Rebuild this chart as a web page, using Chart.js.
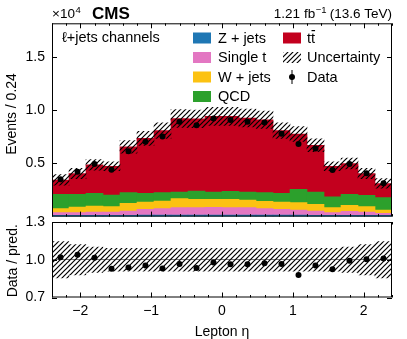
<!DOCTYPE html>
<html>
<head>
<meta charset="utf-8">
<script src="https://cdn.jsdelivr.net/npm/chart.js@4.4.0/dist/chart.umd.min.js"></script>
<style>
  html, body { margin: 0; padding: 0; background: #fff; }
  #wrap { position: relative; width: 407px; height: 339px; }
  #topChart { position: absolute; left: 0; top: 0; }
  #ratioChart { position: absolute; left: 0; top: 205px; }
</style>
</head>
<body>
<div id="wrap">
  <canvas id="topChart" width="407" height="232"></canvas>
  <canvas id="ratioChart" width="407" height="134"></canvas>
</div>
<script>
const BIN_EDGES = [-2.4, -2.16, -1.92, -1.68, -1.44, -1.2, -0.96, -0.72, -0.48, -0.24, 0,
  0.24, 0.48, 0.72, 0.96, 1.2, 1.44, 1.68, 1.92, 2.16, 2.4];

const ZJETS = [120, 120, 120, 120, 130, 140, 140, 150, 150, 150, 150, 150, 150, 140, 140, 130, 120, 120, 120, 120];
const SINGLE_T = [255, 255, 310, 310, 400, 540, 610, 690, 690, 730, 690, 690, 600, 540, 480, 400, 255, 380, 310, 190];
const WJETS = [375, 525, 570, 510, 720, 690, 710, 850, 780, 740, 780, 720, 680, 690, 690, 620, 465, 560, 510, 310];
const QCD = [1340, 1190, 1180, 1090, 1000, 810, 790, 620, 780, 690, 750, 750, 820, 810, 1250, 1160, 1030, 1030, 1060, 1160];
const TTBAR = [1360, 1970, 2690, 2710, 4310, 5190, 5840, 6930, 6800, 7120, 7060, 6970, 6870, 5910, 5220, 4400, 2870, 2910, 2060, 1340];
const DATA = [3520, 4220, 4950, 4400, 6150, 7040, 7530, 8920, 8590, 9230, 9100, 8940, 8870, 7810, 6840, 6410, 4380, 4960, 4080, 3150];
// relative uncertainty of the prediction per bin
const UNC = [0.145, 0.12, 0.1, 0.09, 0.09, 0.09, 0.09, 0.09, 0.09, 0.09, 0.09, 0.09, 0.09, 0.09, 0.09, 0.09, 0.09, 0.1, 0.12, 0.145];

const Y_TICKS = [5000, 10000, 15000];
const RATIO_TICKS = [0.7, 1.0, 1.3];
const X_TICKS = [-2, -1, 0, 1, 2];

const COLORS = {
  zjets: '#1f77b4',
  singleT: '#e377c2',
  wjets: '#fcc212',
  qcd: '#2ca02c',
  ttbar: '#c3001e',
};

const FONT = '"Liberation Sans", Arial, Helvetica, sans-serif';

const labels = BIN_EDGES.slice(0, -1).map((e) => e.toFixed(2));
const pred = TTBAR.map((v, i) => v + ZJETS[i] + SINGLE_T[i] + WJETS[i] + QCD[i]);
const ratio = DATA.map((v, i) => v / pred[i]);

function hatchPattern() {
  const c = document.createElement('canvas');
  c.width = 5;
  c.height = 5;
  const g = c.getContext('2d');
  g.strokeStyle = '#000';
  g.lineWidth = 1.2;
  g.beginPath();
  g.moveTo(0, 5); g.lineTo(5, 0);
  g.moveTo(-1, 1); g.lineTo(1, -1);
  g.moveTo(4, 6); g.lineTo(6, 4);
  g.stroke();
  return g.createPattern(c, 'repeat');
}
const HATCH = hatchPattern();

// frame and inward ticks, matplotlib style
function drawFrame(chart, yTicks) {
  const { ctx, chartArea: a, scales } = chart;
  const xs = scales.x2;
  const ys = scales.y;
  ctx.save();
  ctx.strokeStyle = '#000';
  ctx.lineWidth = 1;
  ctx.beginPath();
  for (let k = -12; k <= 12; k++) {
    const v = k / 5;
    const px = Math.round(xs.getPixelForValue(v)) + 0.5;
    const len = X_TICKS.includes(v) ? 5 : 2.5;
    ctx.moveTo(px, a.bottom); ctx.lineTo(px, a.bottom - len);
    ctx.moveTo(px, a.top); ctx.lineTo(px, a.top + len);
  }
  yTicks.forEach((v) => {
    const py = Math.round(ys.getPixelForValue(v)) + 0.5;
    ctx.moveTo(a.left, py); ctx.lineTo(a.left + 5, py);
    ctx.moveTo(a.right, py); ctx.lineTo(a.right - 5, py);
  });
  ctx.stroke();
  ctx.strokeRect(a.left + 0.5, a.top + 0.5, a.right - a.left - 1, a.bottom - a.top - 1);
  ctx.restore();
}

function vText(ctx, text, x, y, size) {
  ctx.save();
  ctx.translate(x, y);
  ctx.rotate(-Math.PI / 2);
  ctx.font = `${size}px ${FONT}`;
  ctx.textAlign = 'center';
  ctx.textBaseline = 'middle';
  ctx.fillText(text, 0, 0);
  ctx.restore();
}

const topDecor = {
  id: 'topDecor',
  afterDatasetsDraw(chart) {
    drawFrame(chart, Y_TICKS);
  },
  afterDraw(chart) {
    const { ctx } = chart;
    ctx.save();
    ctx.fillStyle = '#000';
    ctx.textBaseline = 'alphabetic';
    ctx.textAlign = 'left';

    ctx.font = `13.5px ${FONT}`;
    ctx.fillText('\u00d710', 52, 18);
    const w10 = ctx.measureText('\u00d710').width;
    ctx.font = `9.5px ${FONT}`;
    ctx.fillText('4', 52 + w10 + 0.5, 12.5);

    ctx.font = `bold 17px ${FONT}`;
    ctx.fillText('CMS', 92, 18.5);

    // luminosity label, right aligned
    ctx.font = `13.5px ${FONT}`;
    const p1 = '1.21 fb';
    const p3 = ' (13.6 TeV)';
    const w1 = ctx.measureText(p1).width;
    const w3 = ctx.measureText(p3).width;
    ctx.font = `9.5px ${FONT}`;
    const sup = '\u22121';
    const w2 = ctx.measureText(sup).width;
    const x = 392 - w1 - w2 - w3;
    ctx.font = `13.5px ${FONT}`;
    ctx.fillText(p1, x, 18);
    ctx.font = `9.5px ${FONT}`;
    ctx.fillText(sup, x + w1 + 0.5, 12.5);
    ctx.font = `13.5px ${FONT}`;
    ctx.fillText(p3, x + w1 + w2, 18);

    ctx.font = `14.5px ${FONT}`;
    ctx.fillText('\u2113+jets channels', 62, 42);

    // legend
    const rows = [38, 57.5, 77, 96.5];
    const sw = 18, sh = 11;
    const col1 = [
      ['Z + jets', COLORS.zjets],
      ['Single t', COLORS.singleT],
      ['W + jets', COLORS.wjets],
      ['QCD', COLORS.qcd],
    ];
    ctx.textBaseline = 'middle';
    col1.forEach(([name, color], i) => {
      ctx.fillStyle = color;
      ctx.fillRect(193, rows[i] - sh / 2, sw, sh);
      ctx.fillStyle = '#000';
      ctx.fillText(name, 218, rows[i] + 0.5);
    });
    ctx.fillStyle = COLORS.ttbar;
    ctx.fillRect(283, rows[0] - sh / 2, sw, sh);
    ctx.fillStyle = '#000';
    ctx.fillText('tt', 307, rows[0] + 0.5);
    const wt = ctx.measureText('t').width;
    ctx.fillRect(307 + wt + 0.5, rows[0] - 8, wt - 0.5, 1.2);

    ctx.fillStyle = HATCH;
    ctx.fillRect(283, rows[1] - sh / 2, sw, sh);
    ctx.fillStyle = '#000';
    ctx.fillText('Uncertainty', 307, rows[1] + 0.5);

    ctx.beginPath();
    ctx.arc(292, rows[2], 3, 0, Math.PI * 2);
    ctx.fill();
    ctx.fillRect(291.5, rows[2] - 7, 1, 14);
    ctx.fillText('Data', 307, rows[2] + 0.5);

    vText(ctx, 'Events / 0.24', 12.5, 114, 14);
    ctx.restore();
  },
};

const ratioDecor = {
  id: 'ratioDecor',
  afterDatasetsDraw(chart) {
    drawFrame(chart, RATIO_TICKS);
  },
  afterDraw(chart) {
    const { ctx, chartArea: a } = chart;
    ctx.save();
    ctx.fillStyle = '#000';
    vText(ctx, 'Data / pred.', 13, (a.top + a.bottom) / 2 + 1, 14);
    ctx.font = `14px ${FONT}`;
    ctx.textAlign = 'center';
    ctx.textBaseline = 'alphabetic';
    ctx.fillText('Lepton \u03b7', (a.left + a.right) / 2, chart.height - 3);
    ctx.restore();
  },
};

const tickFont = { family: FONT, size: 14 };

function barSet(label, data, color) {
  return {
    type: 'bar',
    label,
    data,
    backgroundColor: color,
    borderWidth: 0,
    barPercentage: 1,
    categoryPercentage: 1,
    xAxisID: 'x',
    yAxisID: 'y',
  };
}

new Chart(document.getElementById('topChart'), {
  type: 'bar',
  data: {
    labels,
    datasets: [
      {
        type: 'line',
        label: 'Data',
        data: DATA,
        showLine: false,
        pointRadius: 3,
        pointBackgroundColor: '#000',
        pointBorderWidth: 0,
        xAxisID: 'x',
        yAxisID: 'y',
      },
      {
        type: 'bar',
        label: 'Uncertainty',
        data: pred.map((p, i) => [p * (1 - UNC[i]), p * (1 + UNC[i])]),
        backgroundColor: HATCH,
        borderWidth: 0,
        grouped: false,
        barPercentage: 1,
        categoryPercentage: 1,
        xAxisID: 'x',
        yAxisID: 'yu',
      },
      barSet('Z + jets', ZJETS, COLORS.zjets),
      barSet('Single t', SINGLE_T, COLORS.singleT),
      barSet('W + jets', WJETS, COLORS.wjets),
      barSet('QCD', QCD, COLORS.qcd),
      barSet('tt', TTBAR, COLORS.ttbar),
    ],
  },
  options: {
    responsive: false,
    animation: false,
    layout: { padding: { top: 23.3, right: 15, bottom: 14.7, left: 0 } },
    plugins: { legend: { display: false }, tooltip: { enabled: false } },
    scales: {
      x: { type: 'category', display: false, stacked: true, offset: true },
      x2: { type: 'linear', display: false, offset: false, min: -2.4, max: 2.4 },
      y: {
        stacked: true,
        min: 0,
        max: 18200,
        afterFit(s) { s.width = 52; },
        afterBuildTicks(s) { s.ticks = Y_TICKS.map((v) => ({ value: v })); },
        ticks: {
          font: tickFont,
          color: '#000',
          padding: 7,
          autoSkip: false,
          callback: (v) => (v / 10000).toFixed(1),
        },
        grid: { display: false, drawTicks: false },
        border: { display: false },
      },
      yu: { display: false, min: 0, max: 18200 },
    },
  },
  plugins: [topDecor],
});

new Chart(document.getElementById('ratioChart'), {
  type: 'bar',
  data: {
    labels,
    datasets: [
      {
        type: 'line',
        label: 'Data / pred.',
        data: ratio,
        showLine: false,
        pointRadius: 3,
        pointBackgroundColor: '#000',
        pointBorderWidth: 0,
        xAxisID: 'x',
        yAxisID: 'y',
      },
      {
        type: 'bar',
        label: 'Uncertainty',
        data: UNC.map((u) => [1 - u, 1 + u]),
        backgroundColor: HATCH,
        borderWidth: 0,
        barPercentage: 1,
        categoryPercentage: 1,
        xAxisID: 'x',
        yAxisID: 'y',
      },
    ],
  },
  options: {
    responsive: false,
    animation: false,
    layout: { padding: { top: 17, right: 15, bottom: 0, left: 0 } },
    plugins: { legend: { display: false }, tooltip: { enabled: false } },
    scales: {
      x: { type: 'category', display: false, offset: true },
      x2: {
        type: 'linear',
        position: 'bottom',
        offset: false,
        min: -2.4,
        max: 2.4,
        afterFit(s) { s.height = 41.5; },
        afterBuildTicks(s) { s.ticks = X_TICKS.map((v) => ({ value: v })); },
        ticks: {
          font: tickFont,
          color: '#000',
          padding: 5,
          maxRotation: 0,
          autoSkip: false,
          callback: (v) => (v < 0 ? '\u2212' + Math.abs(v) : String(v)),
        },
        grid: { display: false, drawTicks: false, offset: false },
        border: { display: false },
      },
      y: {
        min: 0.7,
        max: 1.3,
        afterFit(s) { s.width = 52; },
        afterBuildTicks(s) { s.ticks = RATIO_TICKS.map((v) => ({ value: v })); },
        ticks: {
          font: tickFont,
          color: '#000',
          padding: 7,
          autoSkip: false,
          callback: (v) => v.toFixed(1),
        },
        grid: {
          drawTicks: false,
          lineWidth: 0.8,
          color: (c) => (c.tick && Math.abs(c.tick.value - 1) < 1e-6 ? '#555' : 'rgba(0,0,0,0)'),
        },
        border: { display: false },
      },
    },
  },
  plugins: [ratioDecor],
});
</script>
</body>
</html>
